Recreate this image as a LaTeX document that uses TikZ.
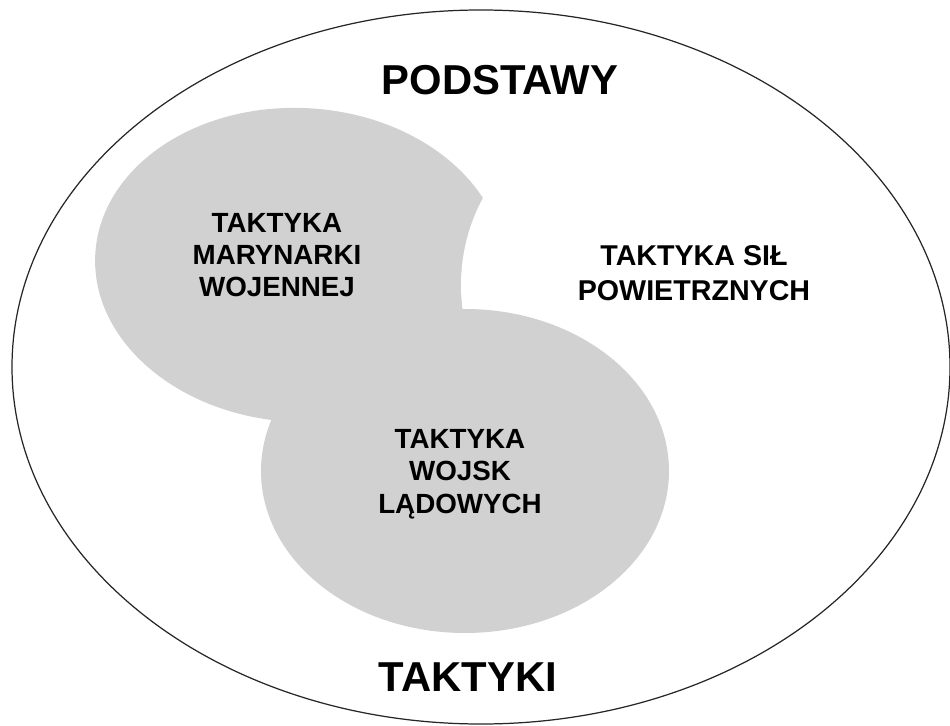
\documentclass[tikz,border=0pt]{standalone}
\usepackage{fontspec}
\setmainfont{Liberation Sans}
\definecolor{blobgray}{gray}{0.82}

\begin{document}
\begin{tikzpicture}[x=0.02cm, y=-0.02cm,
	biglabel/.style={inner sep=0pt, font=\fontsize{23.8}{26}\selectfont\bfseries},
	smalllabel/.style={inner sep=0pt, align=center, font=\fontsize{15.8}{18.4}\selectfont\bfseries}]
	\useasboundingbox (0,0) rectangle (950,726);

	% Draw the upper grey circle (navy)
	\fill[blobgray, rotate around={-2.9:(300,265)}] (300,265) ellipse [x radius=205, y radius=157];

	% Draw the white circle (air force) that bites into it
	\fill[white] (644,285) circle [radius=183];

	% Draw the lower grey circle (land forces)
	\fill[blobgray] (465,471) ellipse [x radius=204, y radius=162];

	% Draw the outer ellipse
	\draw[line width=0.7pt, black!85] (481,367) ellipse [x radius=469, y radius=357];

	% Labels
	\node[biglabel] (podstawy) at (500,80) {PODSTAWY};
	\node[biglabel] (taktyki) at (468,677) {TAKTYKI};

	\node[smalllabel] (marynarka) at (277,255) {TAKTYKA\\MARYNARKI\\WOJENNEJ};
	\node[smalllabel] (wojska) at (460,474) {TAKTYKA\\WOJSK\\LĄDOWYCH};
	\node[smalllabel, font=\fontsize{16.3}{19.8}\selectfont\bfseries] (lotnictwo) at (694,273)
		{TAKTYKA SIŁ\\POWIETRZNYCH};

\end{tikzpicture}
\end{document}
